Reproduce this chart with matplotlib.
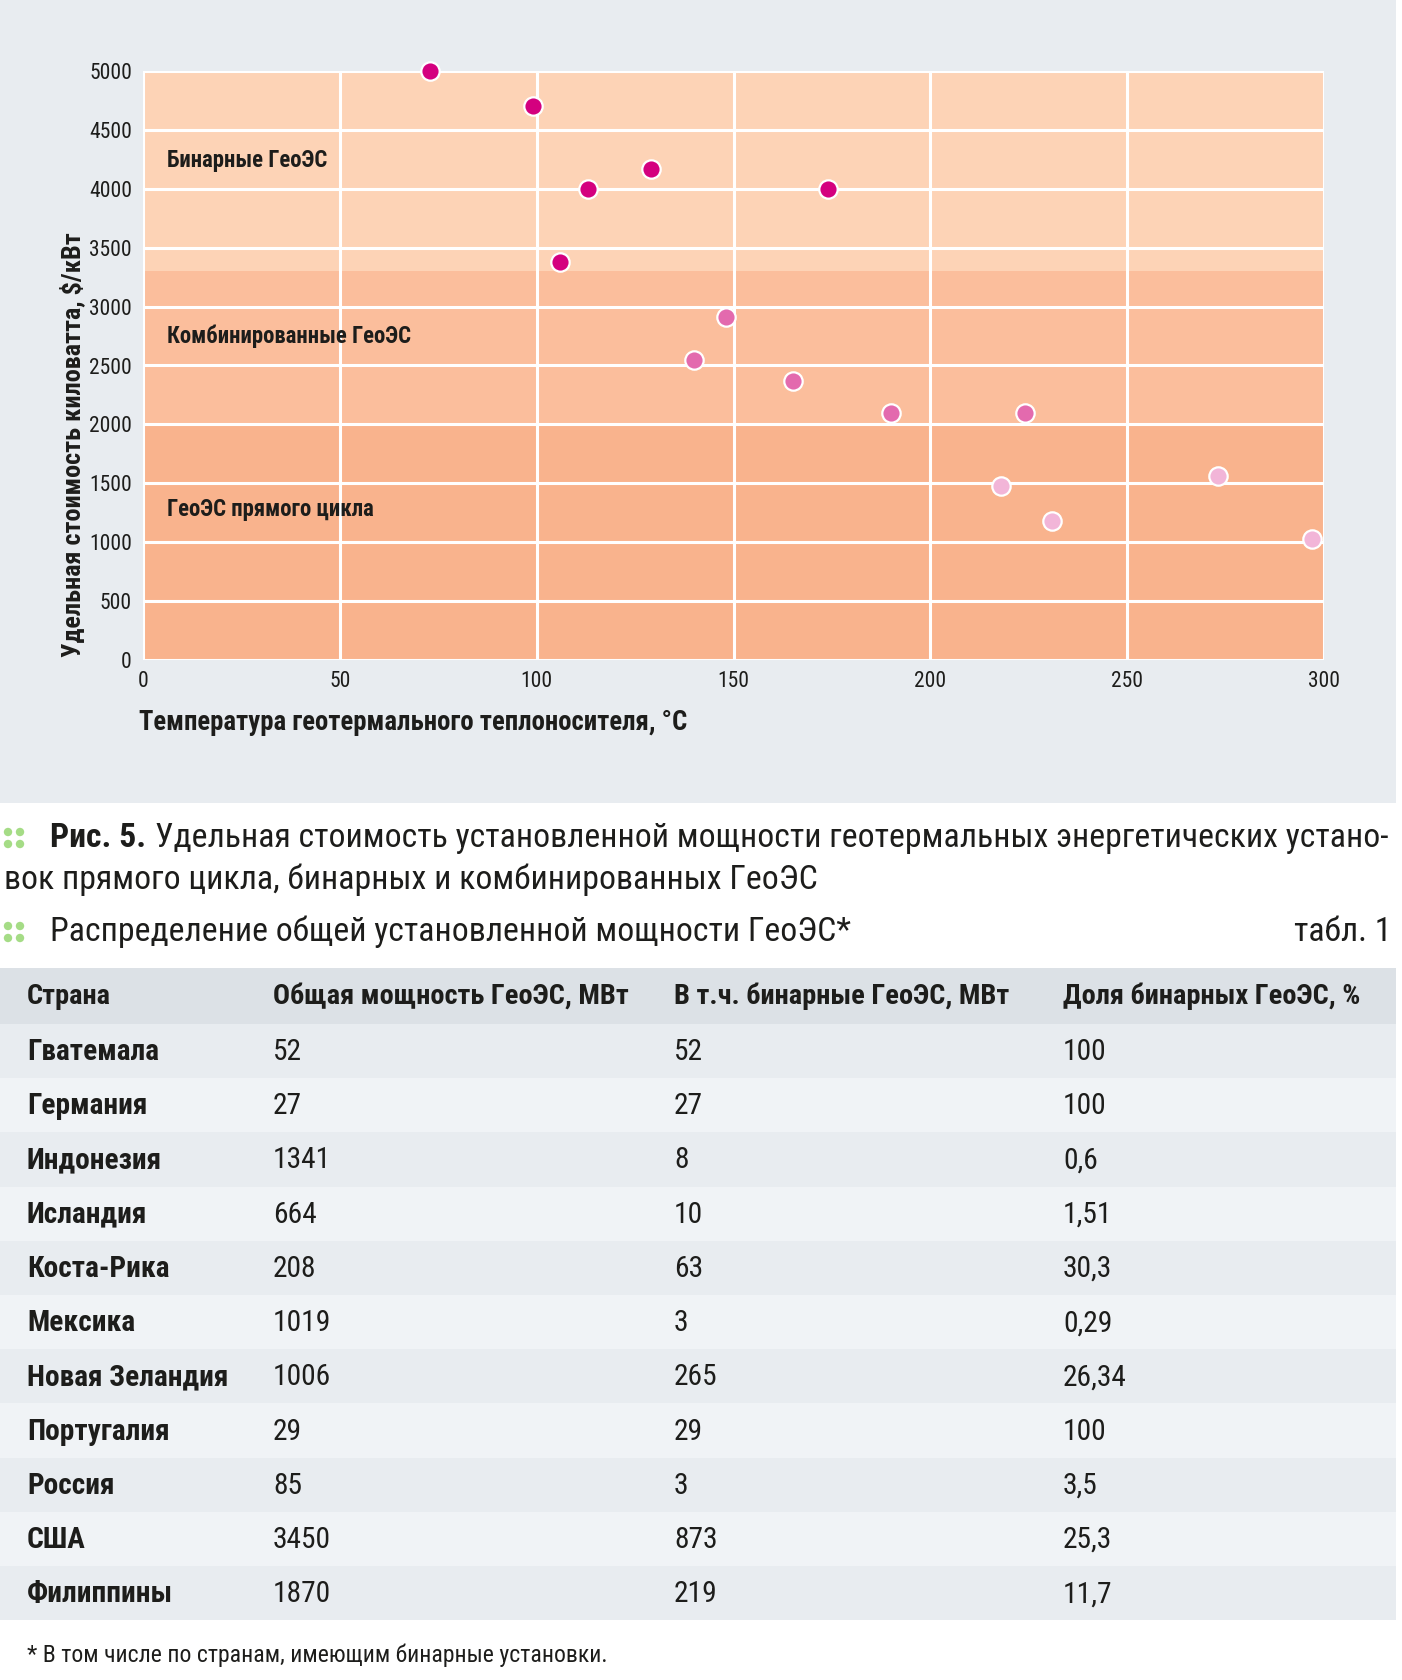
import matplotlib
matplotlib.use("Agg")
import matplotlib.pyplot as plt
from matplotlib import font_manager as fm
from matplotlib.patches import Rectangle, Circle


def pick_font(candidates):
    weights = {}
    for f in fm.fontManager.ttflist:
        weights.setdefault(f.name, set()).add(f.weight)
    for c in candidates:
        w = [int(x) for x in weights.get(c, set()) if str(x).isdigit()]
        if any(x <= 450 for x in w) and any(x >= 650 for x in w):
            return c
    for c in candidates:
        if c in weights:
            return c
    return "DejaVu Sans"


COND = pick_font(["Roboto Condensed", "PT Sans Narrow", "Fira Sans Condensed",
                  "IBM Plex Sans Condensed", "Sofia Sans Condensed", "Saira SemiCondensed",
                  "Liberation Sans Narrow"])
plt.rcParams["font.family"] = [COND, "DejaVu Sans"]

# ---- данные графика ----
binary_t = [73, 99, 113, 129, 106, 174]
binary_cost = [5000, 4700, 4000, 4170, 3375, 4000]
combined_t = [148, 140, 165, 190, 224]
combined_cost = [2910, 2550, 2370, 2100, 2100]
direct_t = [218, 231, 273, 297]
direct_cost = [1480, 1180, 1560, 1025]

zone_bounds = [0, 2000, 3300, 5000]
zone_labels = ["ГеоЭС прямого цикла", "Комбинированные ГеоЭС", "Бинарные ГеоЭС"]
zone_label_y = [1280, 2750, 4240]

# ---- данные таблицы ----
headers = ["Страна", "Общая мощность ГеоЭС, МВт", "В т.ч. бинарные ГеоЭС, МВт", "Доля бинарных ГеоЭС, %"]
countries = ["Гватемала", "Германия", "Индонезия", "Исландия", "Коста-Рика", "Мексика",
             "Новая Зеландия", "Португалия", "Россия", "США", "Филиппины"]
total_mw = ["52", "27", "1341", "664", "208", "1019", "1006", "29", "85", "3450", "1870"]
binary_mw = ["52", "27", "8", "10", "63", "3", "265", "29", "3", "873", "219"]
binary_share = ["100", "100", "0,6", "1,51", "30,3", "0,29", "26,34", "100", "3,5", "25,3", "11,7"]

W, H = 1402, 1680
TXT = "#1d1d1b"

fig = plt.figure(figsize=(W / 100, H / 100), dpi=100)
fig.patch.set_facecolor("white")

bg = fig.add_axes([0, 0, 1, 1])
bg.set_xlim(0, W)
bg.set_ylim(H, 0)
bg.axis("off")
bg.add_patch(Rectangle((0, 0), 1396, 803, color="#e8ecf0", lw=0))

# ---- график ----
x0, x1, y0, y1 = 143, 1324, 71, 660
ax = fig.add_axes([x0 / W, 1 - y1 / H, (x1 - x0) / W, (y1 - y0) / H])
ax.set_xlim(0, 300)
ax.set_ylim(0, 5000)
for (lo, hi), c in zip(zip(zone_bounds[:-1], zone_bounds[1:]), ["#f9b38d", "#fbbe9c", "#fdd3b6"]):
    ax.axhspan(lo, hi, color=c, lw=0, zorder=0)
ax.set_xticks(range(0, 301, 50))
ax.set_yticks(range(0, 5001, 500))
ax.grid(True, color="white", lw=2.2, zorder=0.5)
ax.set_axisbelow(True)
for s in ax.spines.values():
    s.set_visible(False)
ax.tick_params(length=0, labelsize=15.5, labelcolor=TXT)
ax.tick_params(axis="y", pad=8)
ax.tick_params(axis="x", pad=8)
ax.set_facecolor("none")

for xs, ys, c in [(binary_t, binary_cost, "#d4007f"),
                  (combined_t, combined_cost, "#e36aae"),
                  (direct_t, direct_cost, "#f2b5d8")]:
    ax.scatter(xs, ys, s=175, color=c, edgecolors="white", linewidths=1.6,
               zorder=3, clip_on=False)

zone_texts = []
for lab, yv in zip(zone_labels, zone_label_y):
    zone_texts.append(ax.text(6, yv, lab, fontsize=16, fontweight="heavy", color=TXT,
                              va="center", ha="left"))

ax.set_ylabel("Удельная стоимость киловатта, $/кВт", fontsize=19, fontweight="heavy", color=TXT)
ax.yaxis.set_label_coords(-(x0 - 72) / (x1 - x0), (y1 - 445) / (y1 - y0))
ax.yaxis.label.set_va("center")
ax.set_xlabel("Температура геотермального теплоносителя, °C", fontsize=19,
              fontweight="heavy", color=TXT)
ax.xaxis.set_label_coords(-4 / (x1 - x0), -(723 - y1) / (y1 - y0))
ax.xaxis.label.set_ha("left")
ax.xaxis.label.set_va("center")


# ---- подпись к рисунку ----
def dots(yc):
    for dx in (8, 20):
        for dy in (-6, 6):
            bg.add_patch(Circle((dx, yc + dy), 4.2, color="#a5dc86", lw=0))


dots(838)
dots(932)
cap_bold = bg.text(50, 838, "Рис. 5.", fontsize=23, fontweight="bold", color=TXT, va="center")
cap_rest = bg.text(150, 838,
                   "Удельная стоимость установленной мощности геотермальных энергетических устано-",
                   fontsize=23, color=TXT, va="center")
cap_2 = bg.text(4, 880, "вок прямого цикла, бинарных и комбинированных ГеоЭС",
                fontsize=23, color=TXT, va="center")
title = bg.text(50, 932, "Распределение общей установленной мощности ГеоЭС*",
                fontsize=23, color=TXT, va="center")
tabl = bg.text(1391, 932, "табл. 1", fontsize=23, color=TXT, va="center", ha="right")

# ---- таблица ----
col_x = [27, 273, 674, 1063]
bg.add_patch(Rectangle((0, 968), 1396, 56, color="#dce1e6", lw=0))
head_texts = [bg.text(cx, 996, h, fontsize=18, fontweight="bold", color=TXT, va="center")
              for cx, h in zip(col_x, headers)]

row_h = 54.2
name_texts, val_texts = [], []
for i, name in enumerate(countries):
    top = 1024 + i * row_h
    bg.add_patch(Rectangle((0, top), 1396, row_h,
                           color="#e8ecf0" if i % 2 == 0 else "#f0f3f6", lw=0))
    yc = top + row_h / 2 + 1
    name_texts.append(bg.text(col_x[0], yc, name, fontsize=18, fontweight="bold",
                              color=TXT, va="center"))
    for cx, v in zip(col_x[1:], (total_mw[i], binary_mw[i], binary_share[i])):
        val_texts.append(bg.text(cx, yc, v, fontsize=18, color=TXT, va="center"))

foot = bg.text(27, 1655, "* В том числе по странам, имеющим бинарные установки.",
               fontsize=15, color=TXT, va="center")

# ---- подгонка размеров шрифта под ширины из оригинала ----
fig.canvas.draw()
r = fig.canvas.get_renderer()


def width(t):
    return t.get_window_extent(r).width


def scale(texts, k):
    for t in texts:
        t.set_fontsize(t.get_fontsize() * k)


gap = 8
k_cap = (1391 - 50 - gap) / (width(cap_bold) + width(cap_rest))
scale([cap_bold, cap_rest, cap_2, title, tabl], k_cap)
scale(head_texts, 356 / width(head_texts[1]))
scale(name_texts, 202 / width(name_texts[6]))
scale(val_texts, 64 / width(val_texts[6 * 3 + 2]))
scale([foot], 580 / width(foot))
scale(zone_texts, 245 / width(zone_texts[1]))
scale([ax.xaxis.label], 548 / width(ax.xaxis.label))
scale([ax.yaxis.label], 425 / ax.yaxis.label.get_window_extent(r).height)

fig.canvas.draw()
cap_rest.set_x(50 + width(cap_bold) + gap * k_cap)

fig.savefig("out.png", dpi=100, facecolor="white")
